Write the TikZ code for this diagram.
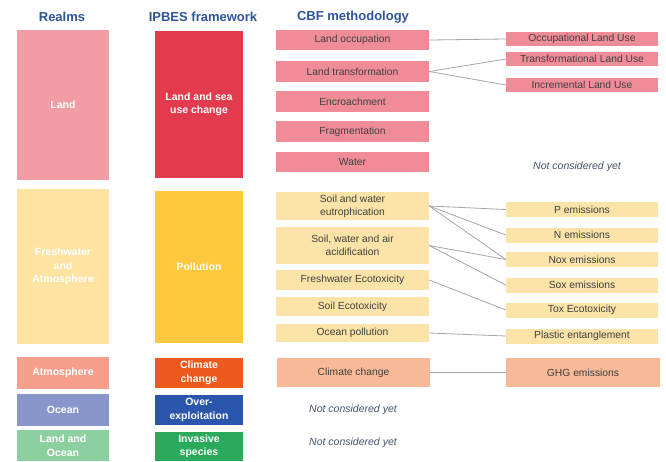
\documentclass[tikz,border=0pt]{standalone}
\usepackage{fontspec}
\setmainfont{Liberation Sans}
\definecolor{hdr}{HTML}{2F5597}
\definecolor{txt}{HTML}{404040}
\definecolor{ncy}{HTML}{44546A}
\definecolor{landR}{HTML}{F29CA5}
\definecolor{landI}{HTML}{E23B4E}
\definecolor{landC}{HTML}{F08C98}
\definecolor{polR}{HTML}{FEE3A2}
\definecolor{polI}{HTML}{FFC83D}
\definecolor{polC}{HTML}{FCE3A8}
\definecolor{atmR}{HTML}{F89F8B}
\definecolor{climI}{HTML}{EE5A1E}
\definecolor{climC}{HTML}{F8B996}
\definecolor{ocR}{HTML}{8896CC}
\definecolor{ocI}{HTML}{2A55AC}
\definecolor{loR}{HTML}{8CD0A0}
\definecolor{invI}{HTML}{2BAA5E}
\definecolor{conn}{HTML}{A6A6A6}
\begin{document}
\begin{tikzpicture}[x=1pt,y=-1pt,
  header/.style={font=\fontsize{13}{15}\selectfont\bfseries, text=hdr},
  realm/.style={inner sep=0pt, minimum width=92pt, text=white, align=center, font=\fontsize{10.5}{13.5}\selectfont\bfseries},
  ipbes/.style={inner sep=0pt, minimum width=88pt, text=white, align=center, font=\fontsize{10.5}{13.5}\selectfont\bfseries},
  cbf/.style={inner sep=0pt, minimum width=153pt, text=txt, align=center, font=\fontsize{10.3}{13}\selectfont},
  rbox/.style={inner sep=0pt, minimum width=152pt, text=txt, align=center, font=\fontsize{10.3}{13}\selectfont},
  ncy/.style={text=ncy, font=\fontsize{10.5}{12}\selectfont\itshape},
  link/.style={draw=conn, line width=0.8pt}]
\useasboundingbox (0,0) rectangle (666,461);
\fill[white] (0,0) rectangle (666,461);
% headers
\node[header] (h1) at (62,17) {Realms};
\node[header] (h2) at (203,17) {IPBES framework};
\node[header] (h3) at (353,17) {CBF methodology};
% realms
\node[realm, fill=landR, minimum height=150pt] (rland) at (63,105) {Land};
\node[realm, fill=polR, minimum height=155pt] (rfw) at (63,266.5) {Freshwater\\and\\Atmosphere};
\node[realm, fill=atmR, minimum height=32pt] (ratm) at (63,373) {Atmosphere};
\node[realm, fill=ocR, minimum height=32pt] (roc) at (63,410) {Ocean};
\node[realm, fill=loR, minimum height=31pt] (rlo) at (63,445.5) {Land and\\Ocean};
% IPBES
\node[ipbes, fill=landI, minimum height=147pt] (iland) at (199,104.5) {Land and sea\\use change};
\node[ipbes, fill=polI, minimum height=152pt] (ipol) at (199,267) {Pollution};
\node[ipbes, fill=climI, minimum height=30pt] (iclim) at (199,373) {Climate\\change};
\node[ipbes, fill=ocI, minimum height=30pt] (iover) at (199,410) {Over-\\exploitation};
\node[ipbes, fill=invI, minimum height=29pt] (iinv) at (199,446.5) {Invasive\\species};
% CBF land
\node[cbf, fill=landC, minimum height=20pt] (lo) at (352.5,40) {Land occupation};
\node[cbf, fill=landC, minimum height=21pt] (lt) at (352.5,71.5) {Land transformation};
\node[cbf, fill=landC, minimum height=21pt] (enc) at (352.5,101.5) {Encroachment};
\node[cbf, fill=landC, minimum height=21pt] (frag) at (352.5,131.5) {Fragmentation};
\node[cbf, fill=landC, minimum height=20pt] (wat) at (352.5,162) {Water};
% CBF pollution
\node[cbf, fill=polC, minimum height=28pt] (eut) at (352.5,206) {Soil and water\\eutrophication};
\node[cbf, fill=polC, minimum height=37pt] (acid) at (352.5,245.5) {Soil, water and air\\acidification};
\node[cbf, fill=polC, minimum height=20pt] (fwe) at (352.5,280) {Freshwater Ecotoxicity};
\node[cbf, fill=polC, minimum height=19pt] (se) at (352.5,306.5) {Soil Ecotoxicity};
\node[cbf, fill=polC, minimum height=18pt] (op) at (352.5,333) {Ocean pollution};
\node[cbf, fill=climC, minimum height=29pt] (cc) at (353.5,372.5) {Climate change};
\node[ncy] (n2) at (353,410) {Not considered yet};
\node[ncy] (n3) at (353,443) {Not considered yet};
% right column
\node[rbox, fill=landC, minimum height=14pt] (olu) at (582,39) {Occupational Land Use};
\node[rbox, fill=landC, minimum height=14pt] (tlu) at (582,59) {Transformational Land Use};
\node[rbox, fill=landC, minimum height=14pt] (ilu) at (582,85) {Incremental Land Use};
\node[ncy] (n1) at (577,167) {Not considered yet};
\node[rbox, fill=polC, minimum height=15pt] (pe) at (582,209.5) {P emissions};
\node[rbox, fill=polC, minimum height=15pt] (ne) at (582,235) {N emissions};
\node[rbox, fill=polC, minimum height=15pt] (noe) at (582,259.5) {Nox emissions};
\node[rbox, fill=polC, minimum height=15pt] (soe) at (582,285) {Sox emissions};
\node[rbox, fill=polC, minimum height=15pt] (tox) at (582,310) {Tox Ecotoxicity};
\node[rbox, fill=polC, minimum height=15pt] (pl) at (582,336) {Plastic entanglement};
\node[rbox, fill=climC, minimum height=29pt, minimum width=154pt] (ghg) at (583,372.5) {GHG emissions};
% connectors
\draw[link] (lo.east) -- (olu.west);
\draw[link] (lt.east) -- (tlu.west);
\draw[link] (lt.east) -- (ilu.west);
\draw[link] (eut.east) -- (pe.west);
\draw[link] (eut.east) -- (ne.west);
\draw[link] (eut.east) -- (noe.west);
\draw[link] (acid.east) -- (noe.west);
\draw[link] (acid.east) -- (soe.west);
\draw[link] (fwe.east) -- (tox.west);
\draw[link] (op.east) -- (pl.west);
\draw[link] (cc.east) -- (ghg.west);
\end{tikzpicture}
\end{document}
